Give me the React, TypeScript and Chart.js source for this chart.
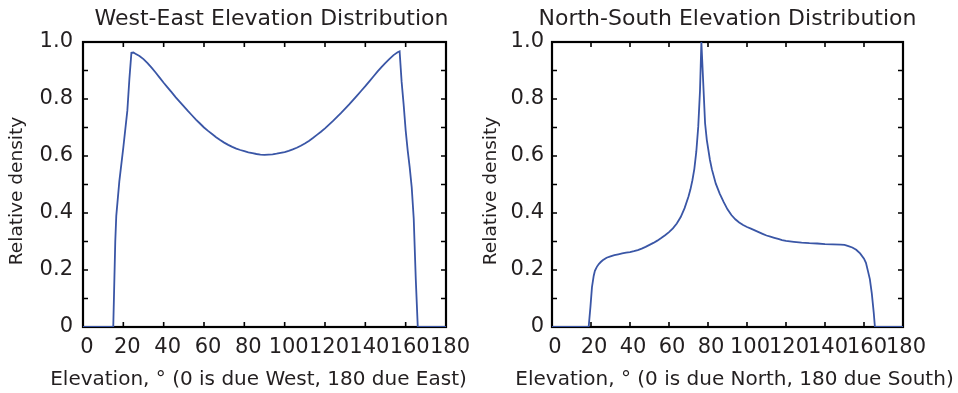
import { useEffect, useRef } from "react";
import { Chart, registerables } from "chart.js";

Chart.register(...registerables);

// ---- data ----
const weAngles = [
  0, 15, 16, 16.5, 18, 20, 22, 23, 24, 25, 26, 28, 30, 32, 34, 36, 38, 40, 42, 44, 46, 48, 50,
  52, 54, 56, 58, 60, 62, 64, 66, 68, 70, 72, 74, 76, 78, 80, 82, 84, 86, 88, 90, 92, 94, 96,
  98, 100, 102, 104, 106, 108, 110, 112, 114, 116, 118, 120, 122, 124, 126, 128, 130, 132, 134,
  136, 138, 140, 142, 144, 146, 148, 150, 152, 154, 156, 157, 158, 159, 160, 161, 162, 163, 164,
  165, 166, 180,
];
const weDensity = [
  0, 0, 0.3, 0.39, 0.51, 0.63, 0.76, 0.87, 0.962, 0.963, 0.959, 0.951, 0.94, 0.926, 0.91, 0.893,
  0.875, 0.857, 0.84, 0.823, 0.806, 0.79, 0.774, 0.758, 0.743, 0.728, 0.714, 0.7, 0.688, 0.677,
  0.666, 0.656, 0.647, 0.639, 0.632, 0.626, 0.621, 0.617, 0.613, 0.61, 0.607, 0.605, 0.604,
  0.605, 0.606, 0.608, 0.611, 0.614, 0.618, 0.623, 0.629, 0.636, 0.644, 0.653, 0.663, 0.674,
  0.685, 0.697, 0.71, 0.723, 0.737, 0.751, 0.766, 0.781, 0.797, 0.813, 0.829, 0.845, 0.862, 0.879,
  0.896, 0.912, 0.927, 0.941, 0.954, 0.964, 0.967, 0.86, 0.78, 0.69, 0.62, 0.56, 0.49, 0.38, 0.17,
  0, 0,
];

const nsAngles = [
  0, 18.8, 19.7, 20.5, 21.4, 22, 23, 24, 25, 26, 28, 30, 32, 34, 36, 38, 40, 42, 44, 46, 48, 50,
  52, 54, 56, 58, 60, 62, 64, 66, 68, 70, 71, 72, 73, 74, 75, 75.9, 76.6, 78.5, 79.4, 81, 82, 84,
  86, 88, 90, 92, 94, 96, 98, 100, 102, 104, 106, 108, 110, 112, 114, 116, 118, 120, 124, 128,
  132, 136, 140, 144, 148, 150, 152, 154, 156, 158, 160, 161, 162, 163, 164, 165, 165.6, 180,
];
const nsDensity = [
  0, 0, 0.07, 0.14, 0.18, 0.197, 0.211, 0.221, 0.228, 0.234, 0.243, 0.248, 0.252, 0.255, 0.258,
  0.261, 0.263, 0.266, 0.27, 0.275, 0.281, 0.288, 0.295, 0.303, 0.312, 0.322, 0.333, 0.346, 0.363,
  0.386, 0.417, 0.458, 0.483, 0.515, 0.555, 0.615, 0.703, 0.83, 1.0, 0.715, 0.656, 0.586, 0.553,
  0.503, 0.468, 0.439, 0.413, 0.393, 0.378, 0.367, 0.358, 0.351, 0.345, 0.339, 0.333, 0.327,
  0.321, 0.317, 0.313, 0.309, 0.305, 0.302, 0.299, 0.296, 0.294, 0.293, 0.291, 0.29, 0.289, 0.288,
  0.284, 0.279, 0.271, 0.258, 0.24, 0.225, 0.197, 0.168, 0.118, 0.05, 0, 0,
];

const xTickValues = [0, 20, 40, 60, 80, 100, 120, 140, 160, 180];
const yLabelValues = [0, 0.2, 0.4, 0.6, 0.8, 1.0];
const yTickMarkValues = [0.1, 0.2, 0.3, 0.4, 0.5, 0.6, 0.7, 0.8, 0.9];

const FONT = "'DejaVu Sans', sans-serif";
const TEXT = "#231f20";
const LINE = "#3a56a6";

const boxPlugin = {
  id: "matlabBox",
  beforeDatasetsDraw(chart: any) {
    const { ctx, chartArea } = chart;
    const { left, right, top, bottom } = chartArea;
    const xs = chart.scales.x;
    const ys = chart.scales.y;
    ctx.save();
    ctx.strokeStyle = "#000";
    ctx.lineWidth = 1.6;
    ctx.beginPath();
    for (const v of xTickValues) {
      const px = xs.getPixelForValue(v);
      ctx.moveTo(px, bottom);
      ctx.lineTo(px, bottom - 5);
      ctx.moveTo(px, top);
      ctx.lineTo(px, top + 5);
    }
    for (const v of yTickMarkValues) {
      const py = ys.getPixelForValue(v);
      ctx.moveTo(left, py);
      ctx.lineTo(left + 5, py);
      ctx.moveTo(right, py);
      ctx.lineTo(right - 5, py);
    }
    ctx.stroke();
    ctx.lineWidth = 2.2;
    ctx.strokeRect(left, top, right - left, bottom - top);
    ctx.restore();
  },
};

// draws the panel title and the axis titles without width squeezing
const textPlugin = {
  id: "panelText",
  afterDraw(chart: any, _args: any, opts: any) {
    const { ctx, chartArea } = chart;
    const cx = (chartArea.left + chartArea.right) / 2;
    ctx.save();
    ctx.fillStyle = TEXT;
    ctx.textAlign = "center";
    ctx.textBaseline = "alphabetic";
    ctx.font = `normal 22px ${FONT}`;
    ctx.fillText(opts.title, cx + opts.titleDx, 25);
    ctx.font = `normal 20px ${FONT}`;
    ctx.fillText(opts.xTitle, cx + opts.xTitleDx, 385);
    ctx.translate(opts.yTitleX, opts.yTitleY);
    ctx.rotate(-Math.PI / 2);
    ctx.textBaseline = "middle";
    ctx.font = `normal 18.5px ${FONT}`;
    ctx.fillText(opts.yTitle, 0, 0);
    ctx.restore();
  },
};

type Panel = {
  angles: number[];
  density: number[];
  title: string;
  xTitle: string;
  axisWidth: number;
  padRight: number;
  yLabelPad: number;
  labelOffset: number;
  titleDx: number;
  xTitleDx: number;
  yTitleX: number;
  yTitleY: number;
};

function makeConfig(p: Panel): any {
  return {
    type: "line",
    data: {
      datasets: [
        {
          data: p.angles.map((a, i) => ({ x: a, y: p.density[i] })),
          borderColor: LINE,
          borderWidth: 1.8,
          pointRadius: 0,
          tension: 0,
          fill: false,
        },
      ],
    },
    options: {
      responsive: false,
      animation: false,
      devicePixelRatio: 1,
      layout: { padding: { left: 0, right: p.padRight, top: 42, bottom: 0 } },
      plugins: {
        legend: { display: false },
        tooltip: { enabled: false },
        title: { display: false },
        panelText: {
          title: p.title,
          xTitle: p.xTitle,
          yTitle: "Relative density",
          titleDx: p.titleDx,
          xTitleDx: p.xTitleDx,
          yTitleX: p.yTitleX,
          yTitleY: p.yTitleY,
        },
      },
      scales: {
        x: {
          type: "linear",
          min: 0,
          max: 180,
          grid: { display: false, drawTicks: false },
          border: { display: false },
          afterBuildTicks: (s: any) => {
            s.ticks = xTickValues.map((v) => ({ value: v }));
          },
          afterFit: (s: any) => {
            s.height = 66;
          },
          ticks: {
            autoSkip: false,
            maxRotation: 0,
            minRotation: 0,
            padding: 8,
            labelOffset: p.labelOffset,
            color: TEXT,
            font: { family: FONT, size: 21 },
            callback: (v: any) => String(v),
          },
          title: { display: false },
        },
        y: {
          type: "linear",
          min: 0,
          max: 1,
          grid: { display: false, drawTicks: false },
          border: { display: false },
          afterBuildTicks: (s: any) => {
            s.ticks = yLabelValues.map((v) => ({ value: v }));
          },
          afterFit: (s: any) => {
            s.width = p.axisWidth;
          },
          ticks: {
            padding: p.yLabelPad,
            color: TEXT,
            font: { family: FONT, size: 21 },
            callback: (v: any) => (Number(v) === 0 ? "0" : Number(v).toFixed(1)),
          },
          title: { display: false },
        },
      },
    },
    plugins: [boxPlugin, textPlugin],
  };
}

const panels: Panel[] = [
  {
    angles: weAngles,
    density: weDensity,
    title: "West-East Elevation Distribution",
    xTitle: "Elevation, \u00B0 (0 is due West, 180 due East)",
    axisWidth: 83,
    padRight: 33,
    yLabelPad: 10,
    labelOffset: 4,
    titleDx: 7,
    xTitleDx: -6,
    yTitleX: 17,
    yTitleY: 191,
  },
  {
    angles: nsAngles,
    density: nsDensity,
    title: "North-South Elevation Distribution",
    xTitle: "Elevation, \u00B0 (0 is due North, 180 due South)",
    axisWidth: 73,
    padRight: 55,
    yLabelPad: 8,
    labelOffset: 3,
    titleDx: 0,
    xTitleDx: 7,
    yTitleX: 12,
    yTitleY: 191,
  },
];

export default function App() {
  const leftRef = useRef<HTMLCanvasElement | null>(null);
  const rightRef = useRef<HTMLCanvasElement | null>(null);

  useEffect(() => {
    const charts: Chart[] = [];
    const refs = [leftRef, rightRef];
    refs.forEach((r, i) => {
      if (r.current) charts.push(new Chart(r.current, makeConfig(panels[i])));
    });
    return () => charts.forEach((c) => c.destroy());
  }, []);

  return (
    <div
      style={{
        position: "fixed",
        left: 0,
        top: 0,
        width: 958,
        height: 393,
        background: "#fff",
        overflow: "hidden",
      }}
    >
      <canvas
        ref={leftRef}
        width={479}
        height={393}
        style={{ position: "absolute", left: 0, top: 0, width: 479, height: 393 }}
      />
      <canvas
        ref={rightRef}
        width={479}
        height={393}
        style={{ position: "absolute", left: 479, top: 0, width: 479, height: 393 }}
      />
    </div>
  );
}
